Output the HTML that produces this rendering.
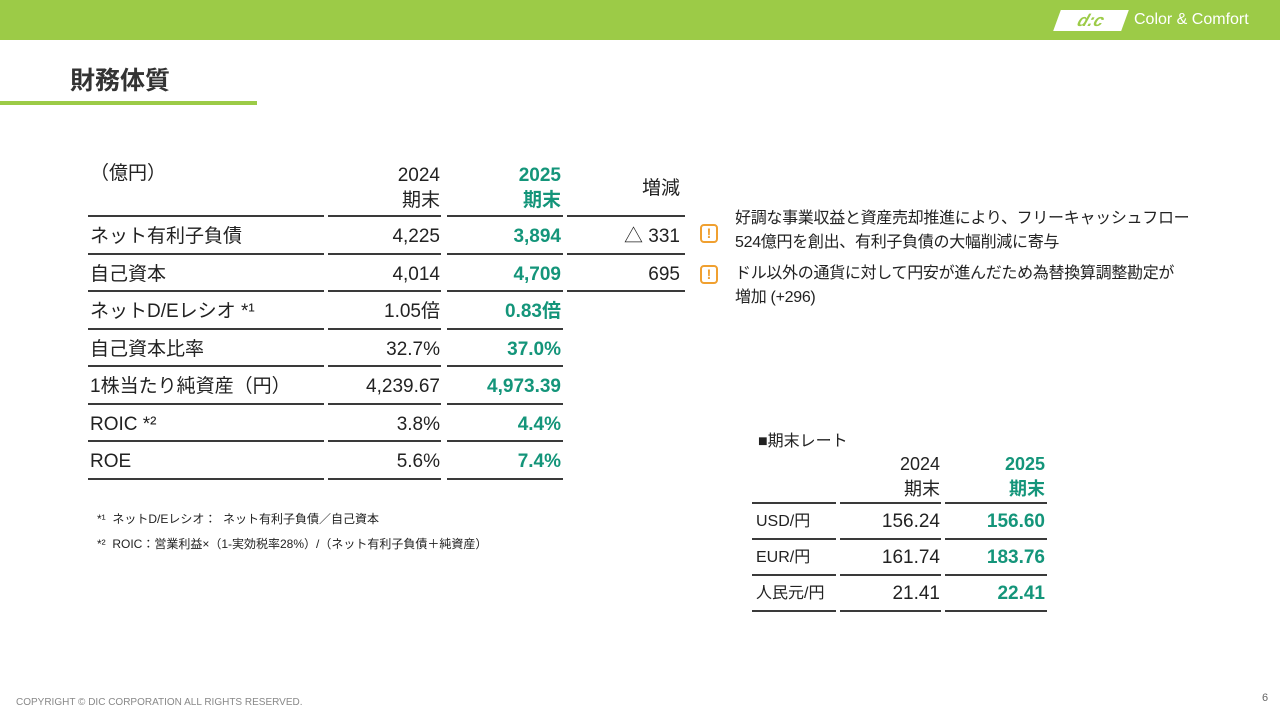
<!DOCTYPE html>
<html><head><meta charset="utf-8"><style>
*{margin:0;padding:0;box-sizing:border-box}
body{width:1280px;height:720px;position:relative;background:#fff;font-family:"Liberation Sans","Noto Sans CJK JP",sans-serif;color:#222;overflow:hidden}
.a{position:absolute;white-space:nowrap}
.t{font-size:19px;line-height:22px}
.g{color:#14957a;font-weight:bold}
.r{text-align:right}
.ln{position:absolute;height:2px;background:#3a3a3a}
.ic{position:absolute;width:18px;height:19px;border:2px solid #f0a030;border-radius:4px;color:#f0a030;font-weight:bold;font-size:14px;line-height:15px;text-align:center}
</style></head><body>
<div class="a" style="left:0;top:0;width:1280px;height:40px;background:#9ccb47"></div>
<div class="a" style="left:1057px;top:10px;width:68px;height:21px;background:#fff;transform:skewX(-20deg);color:#9ccb47;font-weight:bold;font-size:17px;line-height:21px;text-align:center;font-style:italic">d:c</div>
<div class="a" style="left:1134px;top:11px;color:#fff;font-size:16px">Color &amp; Comfort</div>
<div class="a" style="left:70px;top:61px;font-size:25px;font-weight:bold;color:#333">財務体質</div>
<div class="a" style="left:0;top:101px;width:257px;height:4px;background:#9ccb47"></div>

<div class="a t" style="left:90px;top:163px">（億円）</div>
<div class="a t r" style="left:330px;width:110px;top:163px;line-height:25px">2024<br>期末</div>
<div class="a t r g" style="left:450px;width:111px;top:163px;line-height:25px">2025<br>期末</div>
<div class="a t r" style="left:570px;width:110px;top:178px">増減</div>

<div id="tbl"></div>

<div class="a" style="left:97px;top:510px;font-size:12px">*¹&nbsp;&nbsp;ネットD/Eレシオ：&nbsp;&nbsp;ネット有利子負債／自己資本</div>
<div class="a" style="left:97px;top:535px;font-size:12px">*²&nbsp;&nbsp;ROIC：営業利益×（1-実効税率28%）/（ネット有利子負債＋純資産）</div>

<div class="ic" style="left:700px;top:224px">!</div>
<div class="a" style="left:735px;top:207px;font-size:16px;line-height:24px;letter-spacing:-0.3px">好調な事業収益と資産売却推進により、フリーキャッシュフロー<br>524億円を創出、有利子負債の大幅削減に寄与</div>
<div class="ic" style="left:700px;top:265px">!</div>
<div class="a" style="left:735px;top:262px;font-size:16px;line-height:24px;letter-spacing:-0.3px">ドル以外の通貨に対して円安が進んだため為替換算調整勘定が<br>増加 (+296)</div>

<div class="a" style="left:758px;top:427px;font-size:16px">■期末レート</div>
<div class="a t r" style="left:840px;width:100px;top:452px;font-size:18px;line-height:25px">2024<br>期末</div>
<div class="a t r g" style="left:945px;width:100px;top:452px;font-size:18px;line-height:25px">2025<br>期末</div>
<div id="rate"></div>

<div class="a" style="left:16px;top:697px;font-size:10px;color:#888">COPYRIGHT © DIC CORPORATION ALL RIGHTS RESERVED.</div>
<div class="a" style="left:1262px;top:692px;font-size:11px;color:#666">6</div>

<script>
const labels=["ネット有利子負債","自己資本","ネットD/Eレシオ *¹","自己資本比率","1株当たり純資産（円）","ROIC *²","ROE"];
const v2024=["4,225","4,014","1.05倍","32.7%","4,239.67","3.8%","5.6%"];
const v2025=["3,894","4,709","0.83倍","37.0%","4,973.39","4.4%","7.4%"];
const chg=["△ 331","695","","","","",""];
const rateLabels=["USD/円","EUR/円","人民元/円"];
const rate2024=["156.24","161.74","21.41"];
const rate2025=["156.60","183.76","22.41"];
const body=document.body;
function line(x,y,w,name){const d=document.createElement('div');d.className='ln';d.style.left=x+'px';d.style.top=y+'px';d.style.width=w+'px';


body.appendChild(d);}
function txt(s,x,y,w,cls,name,fs){const d=document.createElement('div');d.className='a t '+cls;d.textContent=s;d.style.left=x+'px';d.style.top=y+'px';if(w)d.style.width=w+'px';if(fs)d.style.fontSize=fs+'px';


body.appendChild(d);}
const cols=[[88,236],[328,113],[447,116],[567,118]];
const rowH=37.5,top0=216;
cols.forEach((c,j)=>line(c[0],top0-1,c[1],'header-rule'));
labels.forEach((l,i)=>{
  const y=top0+i*rowH;
  txt(l,90,y+10,0,'','row-label');
  txt(v2024[i],330,y+10,110,'r','value-2024');
  txt(v2025[i],450,y+10,111,'r g','value-2025');
  if(chg[i])txt(chg[i],570,y+10,110,'r','value-change');
  for(let j=0;j<(i<2?4:3);j++)line(cols[j][0],top0+(i+1)*rowH-1,cols[j][1],'row-rule');
});
const rc=[[752,84],[840,101],[945,102]];
const rTop=503,rH=36;
rc.forEach(c=>line(c[0],rTop-1,c[1],'rate-header-rule'));
rateLabels.forEach((l,i)=>{
  const y=rTop+i*rH;
  txt(l,756,y+8,0,'','rate-label',16);
  txt(rate2024[i],840,y+8,100,'r','rate-2024');
  txt(rate2025[i],945,y+8,100,'r g','rate-2025');
  rc.forEach(c=>line(c[0],y+rH-1,c[1],'rate-row-rule'));
});
</script>
</body></html>
